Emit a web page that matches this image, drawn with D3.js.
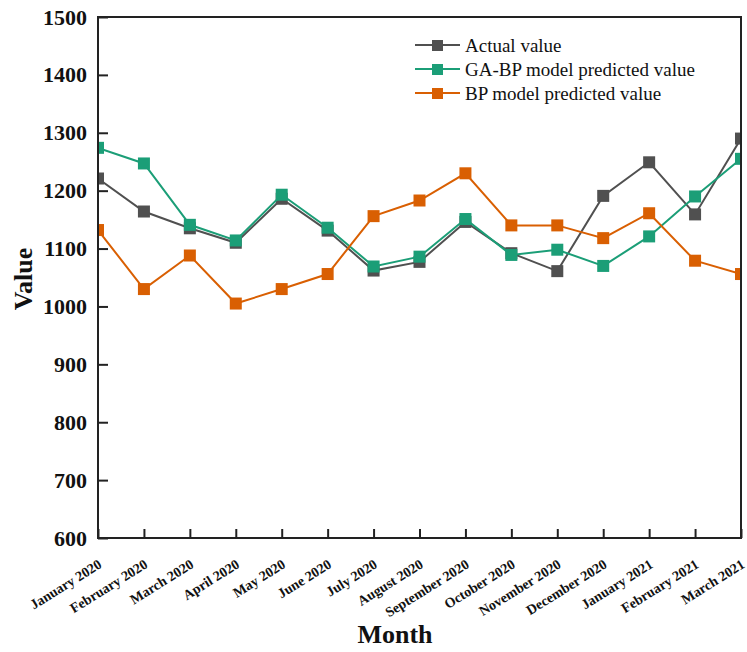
<!DOCTYPE html>
<html>
<head>
<meta charset="utf-8">
<script src="https://cdn.jsdelivr.net/npm/d3@7"></script>
<style>
  body { margin: 0; background: #fff; }
  svg { display: block; }
</style>
</head>
<body>
<svg></svg>
<script>
// data
const months = ["January 2020", "February 2020", "March 2020", "April 2020", "May 2020",
  "June 2020", "July 2020", "August 2020", "September 2020", "October 2020",
  "November 2020", "December 2020", "January 2021", "February 2021", "March 2021"];
const actual = [1221, 1164, 1135, 1110, 1186, 1131, 1062, 1077, 1146, 1092, 1061, 1191, 1249, 1159, 1290];
const gaBp = [1274, 1247, 1141, 1114, 1193, 1136, 1069, 1086, 1151, 1089, 1098, 1070, 1121, 1190, 1255];
const bp = [1132, 1030, 1088, 1005, 1030, 1056, 1156, 1183, 1230, 1140, 1140, 1118, 1161, 1079, 1056];
const yTicks = [600, 700, 800, 900, 1000, 1100, 1200, 1300, 1400, 1500];

const series = [
  { name: "Actual value", values: actual, color: "#505050" },
  { name: "GA-BP model predicted value", values: gaBp, color: "#1b9e77" },
  { name: "BP model predicted value", values: bp, color: "#d95f02" }
];

const width = 747, height = 652;
const margin = { top: 17, right: 6, bottom: 114, left: 98 };
const w = width - margin.left - margin.right;
const h = height - margin.top - margin.bottom;

const svg = d3.select("svg").attr("width", width).attr("height", height);
const g = svg.append("g").attr("transform", `translate(${margin.left},${margin.top})`);

const x = d3.scalePoint().domain(months).range([0, w]);
const y = d3.scaleLinear().domain([600, 1500]).range([h, 0]);

const serif = "'Liberation Serif', 'Times New Roman', serif";

g.append("clipPath").attr("id", "clip")
  .append("rect").attr("width", w).attr("height", h);

// lines + square markers
const line = d3.line().x((d, i) => x(months[i])).y(d => y(d));
const plot = g.append("g").attr("clip-path", "url(#clip)");
series.forEach(s => {
  plot.append("path").datum(s.values)
    .attr("fill", "none").attr("stroke", s.color).attr("stroke-width", 2)
    .attr("d", line);
  plot.selectAll(null).data(s.values).enter().append("rect")
    .attr("x", (d, i) => x(months[i]) - 6)
    .attr("y", d => y(d) - 6)
    .attr("width", 12).attr("height", 12)
    .attr("fill", s.color);
});

// frame
g.append("rect").attr("width", w).attr("height", h)
  .attr("fill", "none").attr("stroke", "#222").attr("stroke-width", 2);

// y axis
const yAxis = g.append("g")
  .call(d3.axisLeft(y).tickValues(yTicks).tickFormat(d3.format("d"))
    .tickSizeInner(-10).tickSizeOuter(0).tickPadding(11));
yAxis.select(".domain").remove();
yAxis.selectAll("line").attr("stroke", "#222").attr("stroke-width", 2);
yAxis.selectAll("text")
  .attr("font-family", serif).attr("font-weight", "bold").attr("font-size", 22).attr("fill", "#111");

// x axis
const xAxis = g.append("g").attr("transform", `translate(0,${h})`)
  .call(d3.axisBottom(x).tickSizeInner(-9).tickSizeOuter(0).tickPadding(8));
xAxis.select(".domain").remove();
xAxis.selectAll("line").attr("stroke", "#222").attr("stroke-width", 2);
xAxis.selectAll("text")
  .attr("font-family", serif).attr("font-weight", "bold").attr("font-size", 14).attr("fill", "#111")
  .attr("text-anchor", "end")
  .attr("dy", 0)
  .attr("transform", "translate(0,22) rotate(-32)");

// axis titles
svg.append("text")
  .attr("x", 395).attr("y", 643)
  .attr("text-anchor", "middle")
  .attr("font-family", serif).attr("font-weight", "bold").attr("font-size", 26).attr("fill", "#111")
  .text("Month");

svg.append("text")
  .attr("transform", "translate(32,279) rotate(-90)")
  .attr("text-anchor", "middle")
  .attr("font-family", serif).attr("font-weight", "bold").attr("font-size", 26).attr("fill", "#111")
  .text("Value");

// legend
const legend = svg.append("g").attr("transform", "translate(415,45)");
series.forEach((s, i) => {
  const row = legend.append("g").attr("transform", `translate(0,${i * 24})`);
  row.append("line").attr("x1", 0).attr("x2", 45)
    .attr("stroke", s.color).attr("stroke-width", 2);
  row.append("rect").attr("x", 17).attr("y", -5).attr("width", 11).attr("height", 11)
    .attr("fill", s.color);
  row.append("text").attr("x", 50).attr("dy", "0.35em")
    .attr("font-family", serif).attr("font-size", 19).attr("fill", "#111")
    .text(s.name);
});
</script>
</body>
</html>
